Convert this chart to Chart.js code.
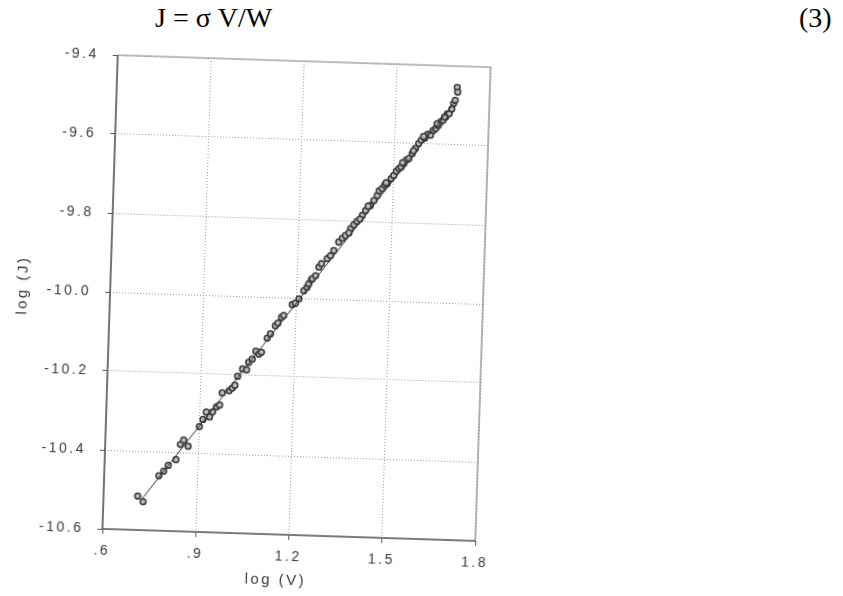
<!DOCTYPE html>
<html>
<head>
<meta charset="utf-8">
<script src="https://cdn.jsdelivr.net/npm/chart.js@4/dist/chart.umd.min.js"></script>
<style>
  html, body { margin: 0; padding: 0; background: #fff; overflow: hidden; }
  #page { position: relative; width: 843px; height: 596px; }
  #eq { position: absolute; left: 155px; top: 2px; font-family: "Liberation Serif", "Times New Roman", serif; font-size: 28px; color: #000; white-space: pre; }
  #eqno { position: absolute; left: 799px; top: 2px; font-family: "Liberation Serif", "Times New Roman", serif; font-size: 28px; color: #000; }
  #plot { position: absolute; left: 0; top: 0; transform-origin: 296.5px 298px; transform: rotate(1.85deg); }
</style>
</head>
<body>
<div id="page">
  <div id="eq">J = σ V/W</div>
  <div id="eqno">(3)</div>
  <canvas id="plot" width="843" height="596"></canvas>
</div>
<script>
// measured points: log of voltage and log of current density
const logV = [
  0.710, 0.728, 0.776, 0.791, 0.805, 0.829, 0.842, 0.852, 0.867, 0.901,
  0.912, 0.922, 0.933, 0.942, 0.954, 0.964, 0.971, 0.993, 1.003, 1.011,
  1.019, 1.034, 1.047, 1.053, 1.064, 1.075, 1.085, 1.093, 1.110, 1.120,
  1.135, 1.143, 1.154, 1.161, 1.187, 1.197, 1.208, 1.223, 1.233, 1.238,
  1.246, 1.249, 1.259, 1.269, 1.277, 1.295, 1.305, 1.315, 1.330, 1.341,
  1.351, 1.367, 1.377, 1.387, 1.403, 1.413, 1.428, 1.439, 1.449, 1.455,
  1.464, 1.472, 1.480, 1.492, 1.500, 1.508, 1.516, 1.523, 1.531, 1.539,
  1.547, 1.557, 1.567, 1.577, 1.585, 1.596, 1.605, 1.614, 1.622, 1.630,
  1.638, 1.645, 1.653, 1.661, 1.666, 1.672, 1.680, 1.685, 1.690, 1.695,
  1.697, 1.362, 1.396, 1.421, 1.476, 1.527, 1.561, 1.592, 1.634, 1.657
];
const logJ = [
  -10.514, -10.528, -10.461, -10.449, -10.434, -10.419, -10.380, -10.369, -10.384, -10.333,
  -10.315, -10.296, -10.308, -10.295, -10.282, -10.277, -10.246, -10.240, -10.233, -10.226,
  -10.203, -10.184, -10.186, -10.167, -10.158, -10.138, -10.145, -10.140, -10.104, -10.093,
  -10.072, -10.065, -10.050, -10.045, -10.017, -10.013, -10.002, -9.981, -9.972, -9.963,
  -9.952, -9.950, -9.942, -9.920, -9.911, -9.898, -9.890, -9.877, -9.855, -9.845,
  -9.838, -9.820, -9.810, -9.801, -9.786, -9.773, -9.760, -9.747, -9.734, -9.722,
  -9.716, -9.707, -9.703, -9.690, -9.682, -9.671, -9.664, -9.660, -9.651, -9.642,
  -9.638, -9.625, -9.612, -9.599, -9.590, -9.585, -9.575, -9.577, -9.565, -9.560,
  -9.552, -9.543, -9.538, -9.530, -9.522, -9.521, -9.509, -9.495, -9.487, -9.454,
  -9.466, -9.831, -9.795, -9.762, -9.701, -9.649, -9.618, -9.581, -9.548, -9.530
];
// straight-line fit through the measurements
const fitV = [0.72, 1.69];
const fitJ = [-10.525, -9.49];

// axis ticks
const xTickValues = [0.6, 0.9, 1.2, 1.5, 1.8];
const xTickLabels = ['.6', '.9', '1.2', '1.5', '1.8'];
const yTickValues = [-10.6, -10.4, -10.2, -10.0, -9.8, -9.6, -9.4];
const yTickLabels = ['-10.6', '-10.4', '-10.2', '-10.0', '-9.8', '-9.6', '-9.4'];

const xTitle = 'log (V)';
const yTitle = 'log (J)';

const FONT = '"Liberation Sans", Arial, sans-serif';
const INK = '#3a3a3a';
const TRACK = '2.5px';

// wide letter spacing for every label (reapplied because a canvas resize resets the context)
const spacing = {
  id: 'spacing',
  beforeLayout(chart) { chart.ctx.letterSpacing = TRACK; },
  beforeDraw(chart) { chart.ctx.letterSpacing = TRACK; }
};

const frame = {
  id: 'frame',
  beforeDatasetsDraw(chart) {
    const { ctx, chartArea: a } = chart;
    ctx.save();
    ctx.strokeStyle = '#8a8a8a';
    ctx.lineWidth = 1.2;
    ctx.beginPath();
    ctx.moveTo(a.left, a.top); ctx.lineTo(a.right, a.top); ctx.lineTo(a.right, a.bottom);
    ctx.stroke();
    ctx.strokeStyle = '#555';
    ctx.lineWidth = 1.6;
    ctx.beginPath();
    ctx.moveTo(a.left, a.top); ctx.lineTo(a.left, a.bottom); ctx.lineTo(a.right, a.bottom);
    ctx.stroke();
    ctx.restore();
  },
  afterDraw(chart) {
    const { ctx, chartArea: a } = chart;
    ctx.save();
    ctx.font = '15px ' + FONT;
    ctx.fillStyle = INK;
    ctx.letterSpacing = TRACK;
    ctx.textAlign = 'center';
    ctx.textBaseline = 'middle';
    ctx.fillText(xTitle, (a.left + a.right) / 2 - 12, a.bottom + 46);
    ctx.translate(a.left - 87, (a.top + a.bottom) / 2 - 4);
    ctx.rotate(-Math.PI / 2);
    ctx.fillText(yTitle, 0, 0);
    ctx.restore();
  }
};

new Chart(document.getElementById('plot'), {
  type: 'scatter',
  data: {
    datasets: [
      {
        type: 'line',
        data: fitV.map((v, i) => ({ x: v, y: fitJ[i] })),
        borderColor: '#333',
        borderWidth: 1,
        pointRadius: 0,
        fill: false,
        order: 0
      },
      {
        data: logV.map((v, i) => ({ x: v, y: logJ[i] })),
        pointStyle: 'circle',
        pointRadius: 2.9,
        borderWidth: 1.5,
        borderColor: '#383838',
        backgroundColor: '#bdbdbd',
        order: 1
      }
    ]
  },
  options: {
    responsive: false,
    animation: false,
    devicePixelRatio: 1,
    layout: { padding: { left: 30, right: 360, top: 61, bottom: 11 } },
    plugins: { legend: { display: false }, tooltip: { enabled: false } },
    scales: {
      x: {
        type: 'linear',
        min: 0.6, max: 1.8,
        afterBuildTicks(s) { s.ticks = xTickValues.map(v => ({ value: v })); },
        afterFit(s) { s.height = 50; },
        ticks: {
          callback: (v, i) => xTickLabels[i],
          font: { family: FONT, size: 14 },
          color: INK,
          padding: 9,
          maxRotation: 0
        },
        grid: {
          color: '#9a9a9a', lineWidth: 1, tickLength: 5,
          tickColor: '#555', tickWidth: 1, tickBorderDash: []
        },
        border: { display: false, dash: [1, 2] }
      },
      y: {
        type: 'linear',
        min: -10.6, max: -9.4,
        afterBuildTicks(s) { s.ticks = yTickValues.map(v => ({ value: v })); },
        afterFit(s) { s.width = 80; },
        ticks: {
          callback: (v, i) => yTickLabels[i],
          font: { family: FONT, size: 14 },
          color: INK,
          padding: 14
        },
        grid: {
          color: '#9a9a9a', lineWidth: 1, tickLength: 5,
          tickColor: '#555', tickWidth: 1, tickBorderDash: []
        },
        border: { display: false, dash: [1, 2] }
      }
    }
  },
  plugins: [spacing, frame]
});
</script>
</body>
</html>
